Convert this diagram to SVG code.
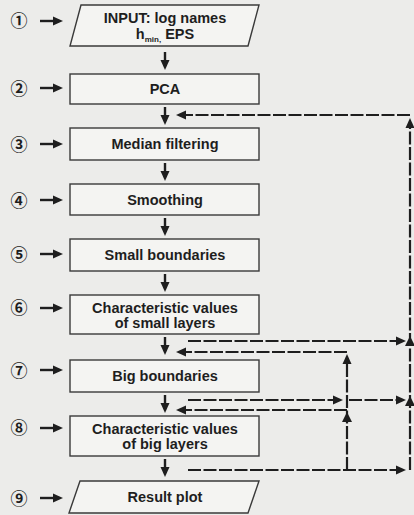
<svg xmlns="http://www.w3.org/2000/svg" width="414" height="515" viewBox="0 0 414 515">
<style>
.bx{fill:#f4f4f2;stroke:#3a3a3a;stroke-width:1.4}
.t{font-family:"Liberation Sans",Arial,sans-serif;font-weight:bold;font-size:14.5px;fill:#1e1e1e;text-anchor:middle}
.num{font-family:"Noto Sans CJK JP","DejaVu Sans",sans-serif;font-weight:bold;font-size:17px;fill:#1e1e1e;text-anchor:middle}
.sol{stroke:#1e1e1e;stroke-width:2.4;fill:none;marker-end:url(#a)}
.dash{stroke:#1e1e1e;stroke-width:2.2;fill:none;stroke-dasharray:13 2.5}
.dh{marker-end:url(#a)}
.hd{fill:#1e1e1e}
</style>
<defs>
<marker id="a" viewBox="0 0 10 10" refX="6" refY="5" markerWidth="10" markerHeight="10" markerUnits="userSpaceOnUse" orient="auto">
<path d="M0,0.5 L10,5 L0,9.5 z" fill="#1e1e1e"/>
</marker>
</defs>
<rect width="414" height="515" fill="#ececea"/>

<g id="labels">
<text class="num" x="19" y="26.5">①</text>
<text class="num" x="19" y="94.5">②</text>
<text class="num" x="19" y="150.5">③</text>
<text class="num" x="19" y="206.5">④</text>
<text class="num" x="19" y="260.5">⑤</text>
<text class="num" x="19" y="313.5">⑥</text>
<text class="num" x="19" y="376.5">⑦</text>
<text class="num" x="19" y="433.5">⑧</text>
<text class="num" x="19" y="504.5">⑨</text>
</g>

<g id="n1"><polygon class="bx" points="81,5 259,5 248,46 70,46"/>
<text class="t" x="165" y="23">INPUT: log names</text>
<text class="t" x="165" y="39">h<tspan font-size="8" dy="3">min,</tspan><tspan dy="-3"> EPS</tspan></text></g>
<g id="n2"><rect class="bx" x="70" y="74" width="189" height="30"/><text class="t" x="165" y="94">PCA</text></g>
<g id="n3"><rect class="bx" x="70" y="128" width="189" height="32"/><text class="t" x="165" y="149">Median filtering</text></g>
<g id="n4"><rect class="bx" x="70" y="184" width="189" height="31"/><text class="t" x="165" y="205">Smoothing</text></g>
<g id="n5"><rect class="bx" x="70" y="239" width="189" height="32"/><text class="t" x="165" y="260">Small boundaries</text></g>
<g id="n6"><rect class="bx" x="70" y="295" width="189" height="39"/><text class="t" x="165" y="312.5">Characteristic values</text><text class="t" x="165" y="328">of small layers</text></g>
<g id="n7"><rect class="bx" x="70" y="360" width="189" height="32"/><text class="t" x="165" y="381">Big boundaries</text></g>
<g id="n8"><rect class="bx" x="70" y="416" width="189" height="40"/><text class="t" x="165" y="433.5">Characteristic values</text><text class="t" x="165" y="449">of big layers</text></g>
<g id="n9"><polygon class="bx" points="80,481 259,481 248,513 69,513"/><text class="t" x="165" y="502">Result plot</text></g>

<g id="connectors">
<path class="sol" d="M40,21 H59"/>
<path class="sol" d="M40,88 H59"/>
<path class="sol" d="M40,144 H59"/>
<path class="sol" d="M40,200 H59"/>
<path class="sol" d="M40,254 H59"/>
<path class="sol" d="M40,308 H59"/>
<path class="sol" d="M40,370 H59"/>
<path class="sol" d="M40,428 H59"/>
<path class="sol" d="M40,498 H59"/>

<path class="sol" d="M165,52 V66"/>
<path class="sol" d="M165,107 V121"/>
<path class="sol" d="M165,163 V177"/>
<path class="sol" d="M165,218 V232"/>
<path class="sol" d="M165,274 V288"/>
<path class="sol" d="M165,337 V351"/>
<path class="sol" d="M165,395 V409"/>
<path class="sol" d="M165,459 V473"/>

<path class="dash dh" d="M410,115 H180"/>
<path class="dash dh" d="M410,470 V122"/>
<polygon class="hd" points="410,336 405,346 415,346"/>
<polygon class="hd" points="410,396 405,406 415,406"/>
<path class="dash dh" d="M188,341 H402"/>
<path class="dash dh" d="M347,352 H180"/>
<path class="dash dh" d="M347,470 V358"/>
<polygon class="hd" points="347,412 342,422 352,422"/>
<path class="dash dh" d="M188,400 H339"/>
<path class="dash dh" d="M349,400 H402"/>
<path class="dash dh" d="M347,410 H180"/>
<path class="dash dh" d="M188,470 H402"/>
</g>
</svg>
